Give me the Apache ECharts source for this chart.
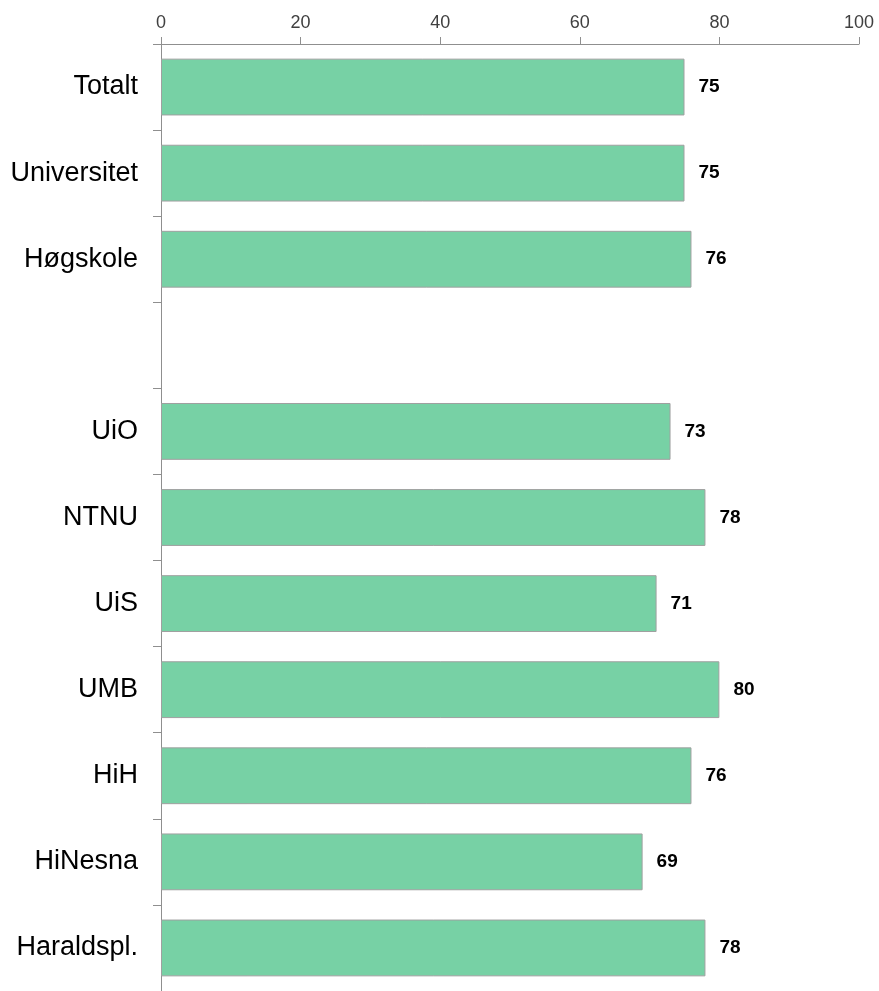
<!DOCTYPE html>
<html>
<head>
<meta charset="utf-8">
<script src="https://cdn.jsdelivr.net/npm/echarts@6/dist/echarts.min.js"></script>
<style>
html,body{margin:0;padding:0;background:#fff;}
#chart{width:879px;height:991px;}
</style>
</head>
<body>
<div id="chart"></div>
<script>
var categories = ['Totalt', 'Universitet', 'Høgskole', '', 'UiO', 'NTNU', 'UiS', 'UMB', 'HiH', 'HiNesna', 'Haraldspl.'];
var values = [75, 75, 76, null, 73, 78, 71, 80, 76, 69, 78];
var xTicks = [0, 20, 40, 60, 80, 100];

var chart = echarts.init(document.getElementById('chart'));
chart.setOption({
  animation: false,
  grid: { left: 161, right: 20, top: 44, bottom: 0, containLabel: false },
  xAxis: {
    type: 'value',
    position: 'top',
    min: xTicks[0],
    max: xTicks[xTicks.length - 1],
    interval: 20,
    axisLine: { show: true, lineStyle: { color: '#8f8f8f', width: 1 } },
    axisTick: { show: true, length: 7, lineStyle: { color: '#8f8f8f' } },
    axisLabel: { color: '#404040', fontSize: 18, fontFamily: 'Liberation Sans, Arial, sans-serif', margin: 12 },
    splitLine: { show: false }
  },
  yAxis: {
    type: 'category',
    inverse: true,
    data: categories,
    axisLine: { show: true, lineStyle: { color: '#8f8f8f', width: 1 } },
    axisTick: { show: true, length: 8, lineStyle: { color: '#8f8f8f' } },
    axisLabel: { color: '#000', fontSize: 27, fontFamily: 'Liberation Sans, Arial, sans-serif', margin: 23 }
  },
  series: [{
    type: 'bar',
    data: values,
    barCategoryGap: '34%',
    itemStyle: { color: '#77d1a5', borderColor: '#a0a0a0', borderWidth: 1 },
    label: {
      show: true,
      position: 'right',
      distance: 14,
      color: '#000',
      fontSize: 19,
      fontWeight: 'bold',
      fontFamily: 'Liberation Sans, Arial, sans-serif'
    }
  }]
});
</script>
</body>
</html>
